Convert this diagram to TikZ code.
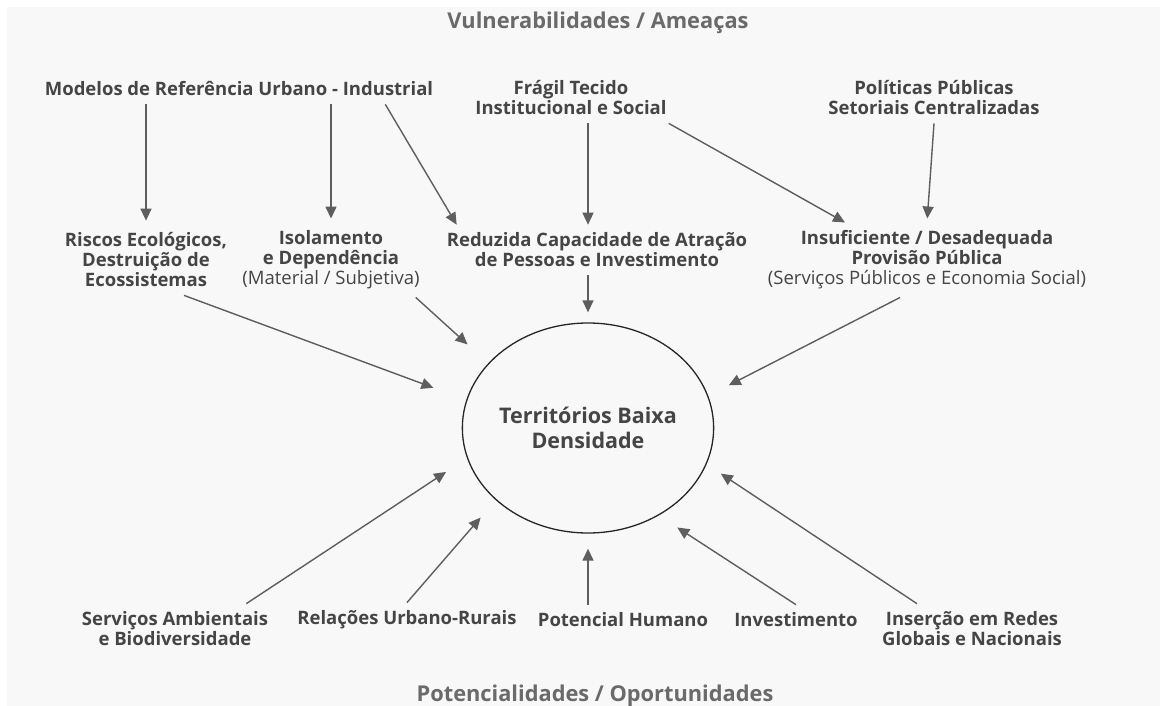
\documentclass[tikz,border=0pt]{standalone}
\usepackage{fontspec}
\setmainfont{Open Sans}
\usetikzlibrary{arrows.meta,shapes.geometric}
\definecolor{txtgrey}{HTML}{454545}
\definecolor{linegrey}{HTML}{5E5E5E}
\definecolor{bggrey}{HTML}{F8F8F8}
\begin{document}
\begin{tikzpicture}[x=1pt,y=-1pt,
    lbl/.style={align=center,font=\fontsize{18.5}{20}\selectfont\bfseries,text=txtgrey,inner xsep=2pt,inner ysep=8pt},
    head/.style={font=\fontsize{21.8}{24}\selectfont\bfseries,text=txtgrey!80},
    arr/.style={draw=linegrey,line width=1.4pt,-{Triangle[length=12pt,width=11pt]}}
  ]
  \fill[bggrey] (7,7) rectangle (1160,706);
  \useasboundingbox (0,0) rectangle (1169,706);

  \node[head] (vuln) at (598,23) {Vulnerabilidades / Ameaças};
  \node[lbl] (mod) at (239,89) {Modelos de Referência Urbano - Industrial};
  \node[lbl] (fragil) at (571,98) {Frágil Tecido\\Institucional e Social};
  \node[lbl] (polit) at (934,98) {Políticas Públicas\\Setoriais Centralizadas};

  \node[lbl] (riscos) at (146,260) {Riscos Ecológicos,\\Destruição de\\Ecossistemas};
  \node[lbl] (isol) at (331,260) {Isolamento\\e Dependência\\{\mdseries (Material / Subjetiva)}};
  \node[lbl] (reduz) at (597,250) {Reduzida Capacidade de Atração\\de Pessoas e Investimento};
  \node[lbl] (insuf) at (927,260) {Insuficiente / Desadequada\\Provisão Pública\\{\mdseries (Serviços Públicos e Economia Social)}};

  \node[ellipse,draw=black!85,line width=1.3pt,minimum width=250pt,minimum height=210pt,inner sep=0pt,
    align=center,font=\fontsize{21.5}{25}\selectfont\bfseries,text=txtgrey] (terr) at (588,428) {Territórios Baixa\\Densidade};

  \node[lbl] (serv) at (175,629) {Serviços Ambientais\\e Biodiversidade};
  \node[lbl] (rel) at (407,620) {Relações Urbano-Rurais};
  \node[lbl] (pot) at (623,620) {Potencial Humano};
  \node[lbl] (inv) at (796,620) {Investimento};
  \node[lbl] (ins) at (972,629) {Inserção em Redes\\Globais e Nacionais};
  \node[head] (potenc) at (595,696) {Potencialidades / Oportunidades};

  % ameacas
  \draw[arr,shorten >=4pt] (mod.south -| riscos.north) -- (riscos.north);
  \draw[arr,shorten >=4pt] (mod.south -| isol.north) -- (isol.north);
  \draw[arr] ([xshift=-50pt]mod.south east) -- ([xshift=12pt]reduz.north west);
  \draw[arr] (fragil.south -| terr.north) -- (reduz.north -| terr.north);
  \draw[arr] (fragil.south east) -- ([xshift=-82pt]insuf.north);
  \draw[arr,shorten >=4pt] (polit.south) -- (insuf.north);

  \draw[arr,shorten >=35pt] ([xshift=38pt]riscos.south) -- (terr.167);
  \draw[arr,shorten >=28pt] ([xshift=-6pt]isol.south east) -- (terr.147);
  \draw[arr,shorten >=10pt] (reduz.south -| terr.north) -- (terr.north);
  \draw[arr,shorten >=23pt] ([xshift=-27pt]insuf.south) -- (terr.15.6);

  % oportunidades
  \draw[arr,shorten >=25pt] ([xshift=-24pt]serv.north east) -- (terr.194);
  \draw[arr,shorten >=23pt] (rel.north) -- (terr.218.5);
  \draw[arr,shorten >=15pt] (pot.north -| terr.south) -- (terr.south);
  \draw[arr,shorten >=22pt] (inv.north) -- (terr.309.6);
  \draw[arr,shorten >=17pt] ([xshift=-55pt]ins.north) -- (terr.343.7);
\end{tikzpicture}
\end{document}
